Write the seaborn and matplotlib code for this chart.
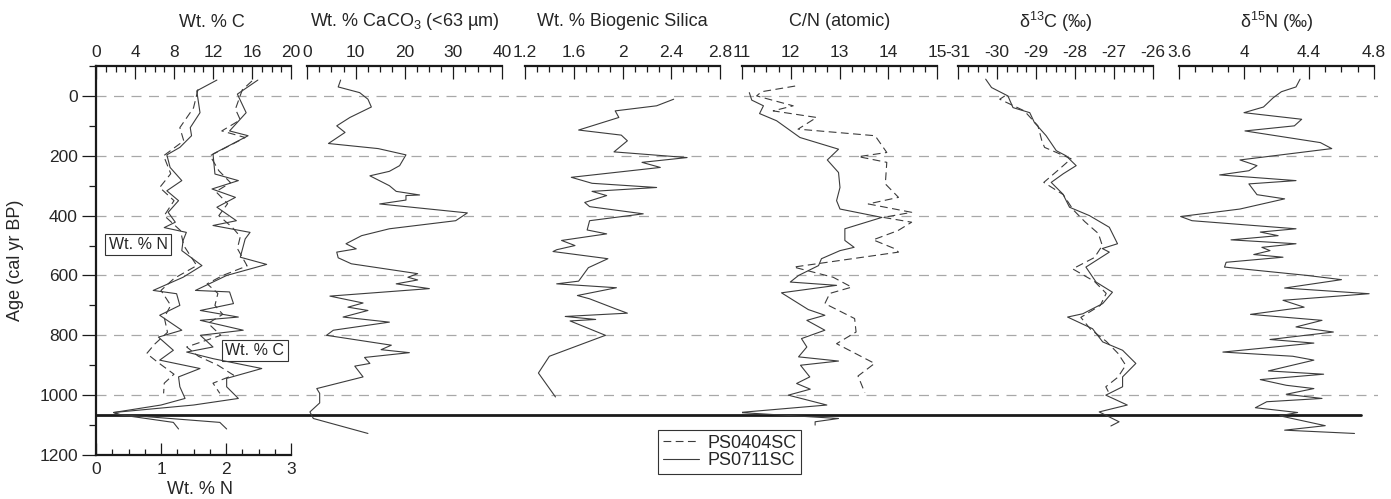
import matplotlib
matplotlib.use("Agg")
import matplotlib.pyplot as plt
import seaborn as sns
from matplotlib.lines import Line2D

# ---- data ----
# Wt. % C
c_0711_age = [-53, -6, 56, 117, 133, 194, 261, 283, 311, 339, 372, 417, 433, 456, 478, 539, 563, 600, 650, 655,
              694, 717, 739, 750, 783, 800, 839, 856, 878, 911, 944, 972, 1011, 1033, 1058, 1065, 1091, 1113]
c_0711 = [16.6, 14.5, 15.4, 13.7, 15.6, 12.0, 12.2, 14.6, 11.9, 14.3, 12.4, 14.4, 12.0, 15.8, 15.3, 14.8, 17.5, 13.4, 10.2, 13.7,
          14.1, 10.7, 14.6, 10.7, 15.1, 10.7, 12.0, 9.3, 12.0, 17.0, 13.4, 13.4, 14.6, 10.0, 1.8, 2.5, 12.7, 13.4]
c_0404_age = [-50, -20, 44, 80, 117, 139, 200, 250, 290, 320, 360, 400, 440, 470, 510, 568, 600, 628, 660, 700,
              730, 760, 800, 839, 870, 900, 933, 960, 994]
c_0404 = [16.0, 15.0, 14.3, 14.8, 12.9, 15.3, 11.7, 12.6, 13.8, 12.3, 13.5, 12.6, 14.0, 14.8, 14.5, 15.5, 13.0, 11.4, 12.5, 12.2,
          13.0, 11.5, 12.8, 9.3, 10.5, 12.5, 14.1, 12.0, 12.7]

# Wt. % N
n_0711_age = [-53, -17, 56, 106, 133, 172, 197, 239, 283, 317, 350, 389, 422, 440, 456, 483, 517, 567, 606, 650,
              661, 700, 733, 783, 806, 850, 883, 911, 939, 972, 1011, 1033, 1058, 1065, 1091, 1113]
n_0711 = [1.86, 1.55, 1.60, 1.45, 1.47, 1.29, 1.09, 1.14, 1.32, 1.09, 1.27, 1.11, 1.22, 1.05, 1.39, 1.34, 1.32, 1.63, 1.34, 0.88,
          1.24, 1.29, 0.98, 1.32, 0.96, 1.19, 0.98, 1.60, 1.27, 1.29, 1.37, 1.0, 0.27, 0.35, 1.19, 1.27]
n_0404_age = [-22, 40, 106, 150, 200, 260, 306, 350, 400, 450, 500, 567, 610, 650, 700, 740, 790, 830, 861, 890,
              930, 960, 994]
n_0404 = [1.57, 1.5, 1.29, 1.35, 1.04, 1.15, 0.98, 1.2, 1.05, 1.3, 1.35, 1.55, 1.2, 1.0, 1.15, 1.05, 1.1, 0.9, 0.78, 0.95,
          1.2, 1.05, 1.04]

# Wt. % CaCO3 (<63 um), PS0711SC
caco3_age = [-53, -30, -11, 11, 37, 72, 100, 122, 159, 176, 197, 233, 252, 267, 300, 319, 331, 333, 348, 361,
             391, 417, 444, 467, 494, 511, 522, 541, 561, 594, 606, 615, 628, 644, 669, 692, 706, 717, 739, 756,
             783, 800, 833, 848, 858, 874, 894, 903, 939, 978, 994, 1026, 1056, 1078, 1128]
caco3 = [6.9, 6.4, 10.8, 12.5, 13.2, 8.8, 6.1, 7.8, 4.4, 14.6, 20.3, 19.0, 16.9, 12.9, 16.9, 18.3, 23.1, 20.3, 20.3, 14.9,
         32.9, 30.5, 16.9, 11.2, 8.0, 10.1, 6.1, 6.4, 9.1, 22.7, 20.7, 22.7, 18.3, 25.1, 4.7, 11.5, 8.4, 12.5, 7.4, 16.9,
         5.4, 4.0, 17.3, 15.2, 21.0, 11.8, 12.9, 9.8, 11.5, 2.0, 2.6, 2.6, 0.6, 1.3, 12.5]

# Wt. % Biogenic Silica, PS0711SC
bsi_age = [11, 33, 50, 72, 114, 131, 150, 187, 206, 222, 239, 272, 292, 306, 319, 333, 356, 370, 394, 417,
           448, 461, 483, 500, 514, 520, 544, 574, 619, 628, 641, 667, 678, 711, 726, 737, 747, 752, 800, 870,
           926, 1006]
bsi = [2.42, 2.28, 1.94, 1.97, 1.64, 1.99, 2.04, 1.93, 2.53, 2.16, 2.31, 1.58, 1.75, 2.28, 1.75, 1.87, 1.69, 1.73, 2.17, 1.73,
       1.71, 1.87, 1.50, 1.61, 1.46, 1.43, 1.88, 1.72, 1.64, 1.46, 1.95, 1.63, 1.73, 1.94, 2.04, 1.53, 1.78, 1.57, 1.86, 1.40,
       1.31, 1.45]

# C/N (atomic)
cn_0711_age = [-11, 14, 33, 59, 83, 139, 178, 214, 256, 306, 350, 378, 406, 444, 483, 506, 517, 544, 567, 600,
               622, 633, 658, 714, 733, 750, 783, 811, 839, 872, 886, 900, 939, 961, 980, 1000, 1033, 1058, 1078, 1089,
               1100]
cn_0711 = [11.15, 11.2, 11.44, 11.36, 11.71, 12.19, 12.98, 12.75, 12.98, 13.01, 12.94, 13.01, 13.87, 13.11, 13.11, 13.3, 13.01, 12.63, 12.57, 12.16,
           11.99, 12.94, 11.81, 12.36, 12.7, 12.33, 12.7, 12.22, 12.33, 12.16, 12.98, 12.2, 12.39, 12.12, 12.4, 11.95, 12.74, 10.95, 12.98, 12.5,
           12.5]
cn_0404_age = [-33, -14, 0, 33, 50, 72, 111, 133, 189, 203, 222, 294, 339, 361, 389, 406, 422, 450, 481, 511,
               522, 572, 606, 639, 660, 694, 744, 789, 828, 894, 936, 992]
cn_0404 = [12.09, 11.4, 11.3, 12.05, 11.64, 12.53, 12.15, 13.73, 13.97, 13.39, 13.97, 13.94, 14.21, 13.59, 14.48, 13.9, 14.48, 14.2, 13.69, 14.14,
           14.21, 12.06, 12.87, 13.25, 12.8, 12.7, 13.31, 13.34, 12.94, 13.72, 13.38, 13.52]

# d13C
d13c_0711_age = [-56, -28, 0, 39, 56, 89, 133, 183, 200, 233, 260, 289, 328, 372, 400, 439, 494, 510, 522, 572,
                 622, 656, 694, 728, 739, 778, 822, 850, 894, 939, 972, 1000, 1033, 1056, 1089, 1103]
d13c_0711 = [-30.29, -30.14, -29.72, -29.59, -29.16, -29.04, -28.74, -28.48, -28.23, -27.97, -28.3, -28.61, -28.31, -28.14, -27.63, -27.12, -26.91, -27.3, -27.12, -27.72,
             -27.46, -27.04, -27.29, -27.8, -28.19, -27.55, -27.29, -26.78, -26.44, -26.78, -26.78, -27.21, -26.66, -27.38, -26.87, -27.08]
d13c_0404_age = [0, 11, 50, 100, 150, 172, 210, 250, 289, 330, 380, 420, 460, 500, 540, 578, 620, 660, 700, 740,
                 780, 820, 860, 900, 940, 972, 1000]
d13c_0404 = [-29.8, -29.93, -29.3, -28.95, -28.85, -28.78, -28.1, -28.45, -28.8, -28.3, -28.05, -27.75, -27.4, -27.3, -27.5, -28.06, -27.5, -27.2, -27.35, -27.85,
             -27.6, -27.2, -26.9, -26.7, -26.9, -27.21, -27.1]

# d15N, PS0711SC
d15n_age = [-56, -30, -14, 6, 37, 56, 78, 100, 117, 156, 176, 214, 233, 250, 264, 283, 294, 330, 344, 378,
            403, 417, 444, 455, 467, 481, 494, 506, 517, 530, 539, 556, 572, 600, 614, 642, 661, 683, 706, 730,
            750, 772, 789, 814, 826, 856, 870, 883, 919, 930, 948, 967, 978, 997, 1011, 1022, 1042, 1058, 1069, 1102,
            1117, 1128]
d15n = [4.345, 4.32, 4.23, 4.18, 4.12, 4.0, 4.355, 4.31, 4.006, 4.47, 4.54, 3.975, 4.08, 4.03, 3.85, 4.32, 4.03, 4.08, 4.25, 3.975,
        3.61, 3.68, 4.32, 4.1, 4.21, 3.92, 4.32, 4.11, 4.16, 4.06, 4.24, 3.89, 3.88, 4.39, 4.6, 4.25, 4.77, 4.24, 4.37, 4.04,
        4.48, 4.32, 4.55, 4.16, 4.43, 3.87, 4.3, 4.43, 4.15, 4.49, 4.1, 4.26, 4.43, 4.26, 4.48, 4.14, 4.07, 4.33, 4.22, 4.5,
        4.25, 4.68]

grid_ages = [0, 200, 400, 600, 800, 1000]
base_age = 1065
core_labels = ["PS0404SC", "PS0711SC"]

# ---- style ----
sns.set_style("ticks")
plt.rcParams["font.family"] = ["Liberation Sans", "DejaVu Sans"]
plt.rcParams["mathtext.fontset"] = "custom"
plt.rcParams["mathtext.rm"] = "Liberation Sans"
plt.rcParams["mathtext.it"] = "Liberation Sans:italic"
plt.rcParams["mathtext.default"] = "regular"
plt.rcParams["axes.unicode_minus"] = False

LINE = "#3c3c3c"
SPINE = "#1a1a1a"
FS = 13
TFS = 12.5
W, H = 1391, 499
Y_TOP, Y_BOT = 66, 455


def rect(x0, x1):
    return [x0 / W, (H - Y_BOT) / H, (x1 - x0) / W, (Y_BOT - Y_TOP) / H]


def draw(ax, x, y, dashed=False):
    sns.lineplot(x=x, y=y, ax=ax, sort=False, estimator=None, color=LINE, lw=0.8,
                 ls=(0, (7, 4)) if dashed else "-")


def top_axis(ax, lo, hi, major, minor, labels=None):
    ax.set_xlim(lo, hi)
    ticks = [lo + i * major for i in range(int(round((hi - lo) / major)) + 1)]
    ax.set_xticks(ticks, labels if labels else [f"{t:g}" for t in ticks])
    ax.set_xticks([lo + i * minor for i in range(int(round((hi - lo) / minor)) + 1)], minor=True)
    ax.xaxis.set_ticks_position("top")
    ax.tick_params(axis="x", which="both", direction="in", top=True, bottom=False,
                   labeltop=True, labelbottom=False, labelsize=TFS, pad=4, color=SPINE, width=0.9)
    ax.tick_params(axis="x", which="major", length=9)
    ax.tick_params(axis="x", which="minor", length=4.5)
    ax.spines["top"].set_visible(True)
    ax.spines["top"].set_linewidth(1.6)
    ax.spines["top"].set_color(SPINE)
    ax.set_xlabel("")
    ax.set_ylabel("")


fig = plt.figure(figsize=(W / 100, H / 100), dpi=100)

# background: dashed age lines and the core base line
bg = fig.add_axes(rect(96, 1378))
bg.set_ylim(1200, -100)
bg.axis("off")
for a in grid_ages:
    bg.axhline(a, color="#a8a8a8", lw=0.9, ls=(0, (8, 6)))
bg.axhline(base_age, xmin=0, xmax=(1361 - 96) / (1378 - 96), color=SPINE, lw=2.0)

# ---- panel 1: Wt. % C (top) and Wt. % N (bottom) ----
ax_n = fig.add_axes(rect(96, 291), facecolor="none")
ax_c = ax_n.twiny()
draw(ax_c, c_0404, c_0404_age, dashed=True)
draw(ax_c, c_0711, c_0711_age)
draw(ax_n, n_0404, n_0404_age, dashed=True)
draw(ax_n, n_0711, n_0711_age)

for s in ["top", "right"]:
    ax_n.spines[s].set_visible(False)
for s in ["left", "bottom"]:
    ax_n.spines[s].set_linewidth(1.6)
    ax_n.spines[s].set_color(SPINE)
for s in ["left", "right", "bottom"]:
    ax_c.spines[s].set_visible(False)
top_axis(ax_c, 0, 20, 4, 1)

ax_n.set_xlim(0, 3)
ax_n.set_xticks([0, 1, 2, 3])
ax_n.set_xticks([i * 0.25 for i in range(13)], minor=True)
ax_n.tick_params(axis="x", which="both", direction="in", bottom=True, top=False,
                 labelsize=TFS, pad=5, color=SPINE, width=0.9)
ax_n.tick_params(axis="x", which="major", length=9)
ax_n.tick_params(axis="x", which="minor", length=4.5)
ax_n.set_ylim(1200, -100)
ax_n.set_yticks(range(0, 1201, 200))
ax_n.set_yticks(range(-100, 1201, 100), minor=True)
ax_n.tick_params(axis="y", which="both", direction="out", left=True, labelsize=TFS, pad=3, color=SPINE, width=0.9)
ax_n.tick_params(axis="y", which="major", length=10)
ax_n.tick_params(axis="y", which="minor", length=5)
ax_n.set_xlabel("")
ax_n.set_ylabel("")

box = dict(boxstyle="square,pad=0.2", fc="white", ec="#333333", lw=0.8)
ax_n.text(0.646, 497, "Wt. % N", fontsize=11.5, ha="center", va="center", bbox=box)
ax_n.text(2.446, 850, "Wt. % C", fontsize=11.5, ha="center", va="center", bbox=box)

# ---- other panels ----
panels = [
    (307, "Wt. % CaCO$_3$ (<63 µm)", (0, 40, 10, 2.5, None), [(caco3, caco3_age, False)]),
    (525, "Wt. % Biogenic Silica", (1.2, 2.8, 0.4, 0.1, ["1.2", "1.6", "2", "2.4", "2.8"]), [(bsi, bsi_age, False)]),
    (742, "C/N (atomic)", (11, 15, 1, 0.25, None), [(cn_0404, cn_0404_age, True), (cn_0711, cn_0711_age, False)]),
    (958, "δ$^{13}$C (‰)", (-31, -26, 1, 0.25, None), [(d13c_0404, d13c_0404_age, True), (d13c_0711, d13c_0711_age, False)]),
    (1179, "δ$^{15}$N (‰)", (3.6, 4.8, 0.4, 0.1, ["3.6", "4", "4.4", "4.8"]), [(d15n, d15n_age, False)]),
]

for x0, title, (lo, hi, major, minor, labels), series in panels:
    ax = fig.add_axes(rect(x0, x0 + 195), facecolor="none")
    for vals, ages, dashed in series:
        draw(ax, vals, ages, dashed)
    for s in ["left", "right", "bottom"]:
        ax.spines[s].set_visible(False)
    top_axis(ax, lo, hi, major, minor, labels)
    ax.set_ylim(1200, -100)
    ax.set_yticks([])
    ax.text(0.5, 1 + (Y_TOP - 22) / (Y_BOT - Y_TOP), title, transform=ax.transAxes,
            ha="center", va="center", fontsize=FS)

ax_c.text((212 - 96) / 195, 1 + (Y_TOP - 22) / (Y_BOT - Y_TOP), "Wt. % C", transform=ax_c.transAxes,
          ha="center", va="center", fontsize=FS)
ax_c.set_ylim(1200, -100)

fig.text(15 / W, 1 - 260 / H, "Age (cal yr BP)", rotation=90, ha="center", va="center", fontsize=FS)
fig.text(200 / W, 1 - 490 / H, "Wt. % N", ha="center", va="center", fontsize=FS)

handles = [Line2D([], [], color=LINE, lw=0.8, ls=(0, (7, 4))), Line2D([], [], color=LINE, lw=0.8)]
leg = fig.legend(handles, core_labels, loc="upper left", bbox_to_anchor=(658 / W, 1 - 430 / H),
                 frameon=True, fancybox=False, edgecolor="#333333", framealpha=1, fontsize=FS,
                 handlelength=2.0, handletextpad=0.5, labelspacing=0.05, borderpad=0.25, borderaxespad=0)
leg.get_frame().set_linewidth(0.8)

fig.savefig("out.png", dpi=100)
